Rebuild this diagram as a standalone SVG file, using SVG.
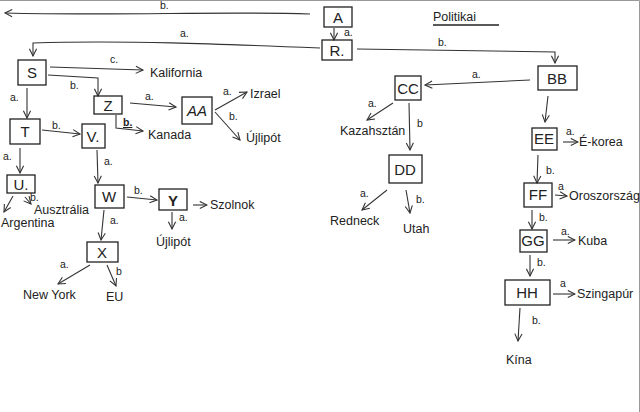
<svg xmlns="http://www.w3.org/2000/svg" width="640" height="412" viewBox="0 0 640 412">
<style>
.b{fill:none;stroke:#222;stroke-width:1.3}
.c{fill:none;stroke:#333;stroke-width:1.1;marker-end:url(#ah)}
.n{font-family:"Liberation Sans",Arial,sans-serif;font-size:15px;fill:#222;text-anchor:middle}
.t{font-family:"Liberation Sans",Arial,sans-serif;font-size:12.5px;fill:#222}
.l{font-family:"Liberation Sans",Arial,sans-serif;font-size:10.5px;fill:#222}
</style>
<defs>
<marker id="ah" viewBox="0 0 10 10" refX="9" refY="5" markerWidth="9" markerHeight="9" orient="auto" markerUnits="userSpaceOnUse">
<path d="M1,1 L9,5 L1,9" fill="none" stroke="#333" stroke-width="1.2"/>
</marker>
</defs>
<rect width="640" height="412" fill="#fff"/>
<path d="M0,0.5 H639.5 V412" fill="none" stroke="#999" stroke-width="1"/>

<g id="title"><text class="t" x="433" y="21" font-size="14">Politikai</text><path d="M433,25 H499" class="b" stroke-width="1"/></g>

<g id="connectors">
<path class="c" d="M310,14 C220,11 120,16 5,13"/><text class="l" x="160" y="9">b.</text>
<path class="c" d="M334,28 V40"/><text class="l" x="344" y="36">a.</text>
<path class="c" d="M320,48 C220,44 120,40 33,43 V56"/><text class="l" x="180" y="37">a.</text>
<path class="c" d="M357,49 L555,52 V63"/><text class="l" x="438" y="46">b.</text>
<path class="c" d="M50,67 L143,70"/><text class="l" x="110" y="63">c.</text>
<path class="c" d="M48,75 L98,78 V96"/><text class="l" x="70" y="89">b.</text>
<path class="c" d="M130,103 L176,107"/><text class="l" x="145" y="100">a.</text>
<path class="c" d="M215,110 L247,92"/><text class="l" x="223" y="95">a.</text>
<path class="c" d="M215,112 L240,140"/><text class="l" x="229" y="120">b.</text>
<path class="c" d="M116,115 V128 L143,131"/><text class="l" x="123" y="126" font-weight="bold" text-decoration="underline">b.</text>
<path class="c" d="M27,88 V118"/><text class="l" x="10" y="101">a.</text>
<path class="c" d="M42,130 L80,134"/><text class="l" x="52" y="129">b.</text>
<path class="c" d="M20,148 V173"/><text class="l" x="3" y="160">a.</text>
<path class="c" d="M13,196 L4,212"/>
<path class="c" d="M25,197 L31,204"/><text class="l" x="30" y="201">b.</text>
<path class="c" d="M97,150 L98,183"/><text class="l" x="104" y="165">a.</text>
<path class="c" d="M127,197 L157,200"/><text class="l" x="134" y="194">b.</text>
<path class="c" d="M193,205 L207,205"/>
<path class="c" d="M172,212 V229"/><text class="l" x="179" y="221">a.</text>
<path class="c" d="M104,210 L101,240"/><text class="l" x="110" y="224">a.</text>
<path class="c" d="M90,265 L58,284"/><text class="l" x="60" y="268">a.</text>
<path class="c" d="M107,265 L116,286"/><text class="l" x="116" y="275">b</text>
<path class="c" d="M530,80 L425,85"/><text class="l" x="472" y="78">a.</text>
<path class="c" d="M393,103 L367,120"/><text class="l" x="368" y="107">a.</text>
<path class="c" d="M409,103 L410,150"/><text class="l" x="417" y="127">b</text>
<path class="c" d="M387,190 L362,210"/><text class="l" x="360" y="197">a.</text>
<path class="c" d="M406,190 L410,213"/><text class="l" x="416" y="203">b.</text>
<path class="c" d="M548,96 L545,122"/>
<path class="c" d="M563,142 L578,142"/><text class="l" x="566" y="135">a.</text>
<path class="c" d="M555,195 L567,196"/><text class="l" x="558" y="190">a</text>
<path class="c" d="M538,155 L537,183"/><text class="l" x="546" y="174">b.</text>
<path class="c" d="M532,210 L532,229"/><text class="l" x="539" y="221">b.</text>
<path class="c" d="M553,240 L575,240"/><text class="l" x="561" y="235">a.</text>
<path class="c" d="M530,255 L530,276"/><text class="l" x="537" y="266">b.</text>
<path class="c" d="M553,294 L575,294"/><text class="l" x="560" y="287">a</text>
<path class="c" d="M520,308 L518,341"/><text class="l" x="532" y="324">b.</text>
</g>

<g id="A"><rect class="b" x="324" y="7" width="28" height="20"/><text class="n" x="338" y="23">A</text></g>
<g id="R"><rect class="b" x="322" y="40" width="30" height="20"/><text class="n" x="337" y="56">R.</text></g>
<g id="S"><rect class="b" x="18" y="60" width="28" height="25"/><text class="n" x="32" y="78">S</text></g>
<g id="Z"><rect class="b" x="94" y="96" width="28" height="18"/><text class="n" x="108" y="111">Z</text></g>
<g id="AA"><rect class="b" x="182" y="97" width="30" height="27"/><text class="n" x="197" y="116" font-style="italic">AA</text></g>
<g id="T"><rect class="b" x="10" y="119" width="30" height="25"/><text class="n" x="25" y="137">T</text></g>
<g id="V"><rect class="b" x="82" y="124" width="23" height="24"/><text class="n" x="93" y="142">V.</text></g>
<g id="U"><rect class="b" x="7" y="175" width="28" height="18"/><text class="n" x="21" y="190">U.</text></g>
<g id="W"><rect class="b" x="95" y="185" width="29" height="23"/><text class="n" x="109" y="202">W</text></g>
<g id="Y"><rect class="b" x="159" y="189" width="28" height="21"/><text class="n" x="173" y="206" font-weight="bold">Y</text></g>
<g id="X"><rect class="b" x="87" y="242" width="31" height="20"/><text class="n" x="102" y="258">X</text></g>
<g id="BB"><rect class="b" x="538" y="66" width="39" height="24"/><text class="n" x="557" y="84">BB</text></g>
<g id="CC"><rect class="b" x="395" y="76" width="26" height="24"/><text class="n" x="408" y="94">CC</text></g>
<g id="DD"><rect class="b" x="389" y="155" width="33" height="28"/><text class="n" x="405" y="175">DD</text></g>
<g id="EE"><rect class="b" x="532" y="128" width="25" height="22"/><text class="n" x="544" y="144" font-size="13">EE</text></g>
<g id="FF"><rect class="b" x="524" y="183" width="28" height="24"/><text class="n" x="538" y="200" font-size="13">FF</text></g>
<g id="GG"><rect class="b" x="520" y="230" width="27" height="22"/><text class="n" x="533" y="246" font-size="13">GG</text></g>
<g id="HH"><rect class="b" x="505" y="280" width="45" height="25"/><text class="n" x="527" y="298">HH</text></g>

<g id="leaves">
<text class="t" x="150" y="77">Kalifornia</text>
<text class="t" x="250" y="98">Izrael</text>
<text class="t" x="246" y="142">Újlipót</text>
<text class="t" x="148" y="139">Kanada</text>
<text class="t" x="1" y="227" font-size="10.5">Argentina</text>
<text class="t" x="34" y="214" font-size="11">Ausztrália</text>
<text class="t" x="210" y="209" font-size="11.5">Szolnok</text>
<text class="t" x="156" y="246" font-size="11.5">Újlipót</text>
<text class="t" x="23" y="299">New York</text>
<text class="t" x="106" y="301">EU</text>
<text class="t" x="340" y="135" font-size="10.5">Kazahsztán</text>
<text class="t" x="330" y="225">Redneck</text>
<text class="t" x="403" y="233">Utah</text>
<text class="t" x="579" y="146" font-size="11">É-korea</text>
<text class="t" x="569" y="200" font-size="9.5">Oroszország</text>
<text class="t" x="578" y="245" font-size="11">Kuba</text>
<text class="t" x="577" y="298" font-size="10.5">Szingapúr</text>
<text class="t" x="506" y="364" font-size="14">Kína</text>
</g>
</svg>
